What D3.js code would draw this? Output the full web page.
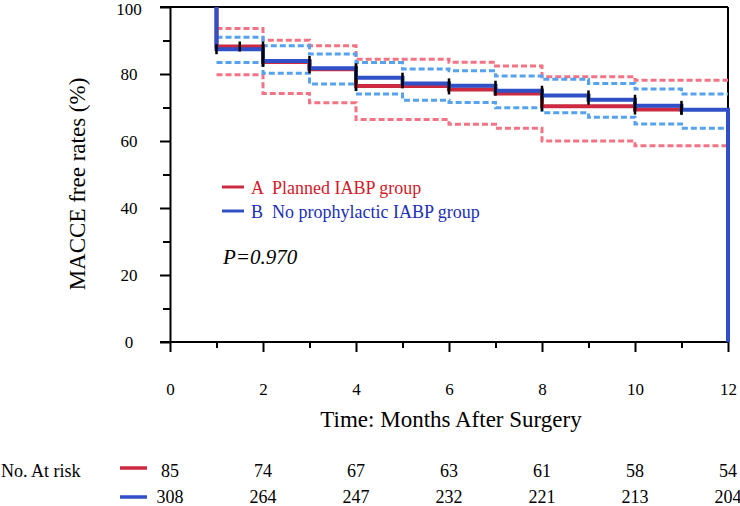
<!DOCTYPE html>
<html>
<head>
<meta charset="utf-8">
<script src="https://cdn.jsdelivr.net/npm/d3@7"></script>
<style>
    body { margin: 0; background: #fff; }
    svg text { font-family: "Liberation Serif", "Times New Roman", serif; white-space: pre; }
</style>
</head>
<body>
<div id="km-div"></div>
<script>
// Kaplan-Meier step values (step after)
const plannedTimes = [1, 1, 2, 3, 4, 6, 7, 8, 10, 11];
const plannedSurv = [100, 88.2, 83.6, 81.4, 76.4, 75.4, 74.2, 70.4, 69.4, 69.4];
const noProphTimes = [1, 1, 2, 3, 4, 5, 6, 7, 8, 9, 10, 11, 12];
const noProphSurv = [100, 87.4, 83.9, 81.7, 78.9, 77.2, 76.5, 75.0, 73.6, 72.3, 70.5, 69.3, 0];

// 95% CI bands (dashed), same step times
const ciTimes = [1, 2, 3, 4, 5, 6, 7, 8, 9, 10, 11, 12];
const plannedUpper = [93.6, 90.1, 88.4, 84.4, 84.4, 83.5, 82.4, 79.2, 79.2, 78.1, 78.1, 78.1];
const plannedLower = [79.8, 74.2, 71.4, 66.4, 66.4, 65.0, 63.8, 60.0, 60.0, 58.6, 58.6, 58.6];
const noProphUpper = [91.0, 88.4, 86.0, 83.4, 81.5, 81.0, 79.4, 78.4, 77.2, 75.5, 74.0, 74.0];
const noProphLower = [83.4, 80.2, 77.0, 74.0, 72.2, 71.5, 69.9, 68.4, 67.1, 65.1, 63.8, 63.8];

// censoring marks
const plannedCensor = [1.5, 2, 4, 6, 8, 10, 11];
const noProphCensor = [1, 2, 3, 4, 5, 6, 7, 8, 9, 10, 11];

// number at risk
const riskMonths = [0, 2, 4, 6, 8, 10, 12];
const plannedRisk = [85, 74, 67, 63, 61, 58, 54];
const noProphRisk = [308, 264, 247, 232, 221, 213, 204];

const legendLabels = ["A  Planned IABP group", "B  No prophylactic IABP group"];

const width = 740, height = 506;
const serif = '"Liberation Serif", "Times New Roman", serif';
const red = "#cc2a40", blue = "#2f50c6";
const redCI = "#f27484", blueCI = "#56a2ee";

const svg = d3.select("#km-div").append("svg")
    .attr("width", width)
    .attr("height", height)
    .attr("font-family", serif);

const x = d3.scaleLinear().domain([0, 12]).range([170, 728]);
const y = d3.scaleLinear().domain([0, 100]).range([342, 7]);

// frame
const frame = svg.append("g").attr("stroke", "#000").attr("stroke-width", 2);
frame.append("line").attr("x1", 160).attr("x2", x(12)).attr("y1", y(100)).attr("y2", y(100));
frame.append("line").attr("x1", x(12)).attr("x2", x(12)).attr("y1", y(100)).attr("y2", y(0));

// y axis: minor ticks then major ticks with labels
svg.append("g")
    .attr("transform", `translate(${x(0)},0)`)
    .call(d3.axisLeft(y).tickValues(d3.range(10, 100, 20)).tickSize(7).tickFormat(""))
    .call(g => g.select(".domain").remove())
    .call(g => g.selectAll("line").attr("stroke-width", 2));

svg.append("g")
    .attr("transform", `translate(${x(0)},0)`)
    .call(d3.axisLeft(y).tickValues(d3.range(0, 101, 20)).tickSize(10).tickSizeOuter(0))
    .attr("font-family", serif)
    .attr("font-size", 17)
    .call(g => g.select(".domain").attr("stroke-width", 2))
    .call(g => g.selectAll("line").attr("stroke-width", 2))
    .call(g => g.selectAll("text")
        .attr("x", -41)
        .attr("dy", d => d === 100 ? "0.42em" : "0.34em")
        .attr("text-anchor", "middle")
        .attr("fill", "#000"));

// x axis
svg.append("g")
    .attr("transform", `translate(0,${y(0)})`)
    .call(d3.axisBottom(x).tickValues(d3.range(1, 12, 2)).tickSize(6).tickFormat(""))
    .call(g => g.select(".domain").remove())
    .call(g => g.selectAll("line").attr("stroke-width", 2));

svg.append("g")
    .attr("transform", `translate(0,${y(0)})`)
    .call(d3.axisBottom(x).tickValues(d3.range(0, 13, 2)).tickSize(10).tickSizeOuter(0))
    .attr("font-family", serif)
    .attr("font-size", 17)
    .call(g => g.select(".domain").remove())
    .call(g => g.selectAll("line").attr("stroke-width", 2))
    .call(g => g.selectAll("text")
        .attr("y", 53)
        .attr("dy", 0)
        .attr("fill", "#000"));

svg.append("line")
    .attr("x1", 160).attr("x2", x(12))
    .attr("y1", y(0)).attr("y2", y(0))
    .attr("stroke", "#000").attr("stroke-width", 2);

// axis titles
svg.append("text")
    .attr("transform", "translate(85,184) rotate(-90)")
    .attr("text-anchor", "middle")
    .style("font-size", "23px")
    .text("MACCE free rates (%)");

svg.append("text")
    .attr("x", 451)
    .attr("y", 427)
    .attr("text-anchor", "middle")
    .style("font-size", "23px")
    .text("Time: Months After Surgery");

const stepLine = d3.line()
    .x(d => x(d[0]))
    .y(d => y(d[1]))
    .curve(d3.curveStepAfter);

function drawCI(times, vals, color) {
    svg.append("path")
        .datum(d3.zip(times, vals))
        .attr("d", stepLine)
        .attr("fill", "none")
        .attr("stroke", color)
        .attr("stroke-width", 3)
        .attr("stroke-dasharray", "6,3");
}

drawCI(ciTimes, plannedUpper, redCI);
drawCI(ciTimes, plannedLower, redCI);
drawCI(ciTimes, noProphUpper, blueCI);
drawCI(ciTimes, noProphLower, blueCI);

svg.append("path")
    .datum(d3.zip(plannedTimes, plannedSurv))
    .attr("d", stepLine)
    .attr("fill", "none")
    .attr("stroke", red)
    .attr("stroke-width", 4);

svg.append("path")
    .datum(d3.zip(noProphTimes, noProphSurv))
    .attr("d", stepLine)
    .attr("fill", "none")
    .attr("stroke", blue)
    .attr("stroke-width", 4);

// censor ticks span the step at that month
function level(times, vals, t, before) {
    let v = vals[vals.length - 1];
    for (let i = 1; i < times.length; i++) {
        if (before ? times[i] >= t : times[i] > t) { v = vals[i - 1]; break; }
    }
    return v;
}

function drawCensor(times, vals, marks) {
    svg.append("g")
        .selectAll("line")
        .data(marks)
        .enter()
        .append("line")
        .attr("x1", d => x(d))
        .attr("x2", d => x(d))
        .attr("y1", d => {
            const v = d === times[1] ? level(times, vals, d, false) : level(times, vals, d, true);
            return y(v) - 5;
        })
        .attr("y2", d => y(level(times, vals, d, false)) + 5)
        .attr("stroke", "#000")
        .attr("stroke-width", 2.5);
}

drawCensor(plannedTimes, plannedSurv, plannedCensor);
drawCensor(noProphTimes, noProphSurv, noProphCensor);

// legend
const legend = svg.append("g")
    .selectAll("g")
    .data(legendLabels)
    .enter()
    .append("g")
    .attr("transform", (d, i) => `translate(222,${187 + i * 24})`);

legend.append("line")
    .attr("x1", 0).attr("x2", 22)
    .attr("stroke", (d, i) => i === 0 ? red : blue)
    .attr("stroke-width", 3);

legend.append("text")
    .attr("x", 29)
    .attr("y", 7)
    .style("font-size", "18px")
    .attr("fill", (d, i) => i === 0 ? "#d01a2a" : "#2030b4")
    .text(d => d);

svg.append("text")
    .attr("x", 223)
    .attr("y", 264)
    .style("font-size", "21px")
    .style("font-style", "italic")
    .text("P=0.970");

// number at risk table
svg.append("text")
    .attr("x", 1)
    .attr("y", 477)
    .style("font-size", "18px")
    .text("No. At risk");

[[plannedRisk, red, 468, 477], [noProphRisk, blue, 497, 503]].forEach(([vals, color, ly, ty]) => {
    svg.append("line")
        .attr("x1", 120).attr("x2", 147)
        .attr("y1", ly).attr("y2", ly)
        .attr("stroke", color)
        .attr("stroke-width", 3.5);

    svg.append("g")
        .selectAll("text")
        .data(vals)
        .enter()
        .append("text")
        .attr("x", (d, i) => x(riskMonths[i]))
        .attr("y", ty)
        .attr("text-anchor", "middle")
        .style("font-size", "18px")
        .text(d => d);
});
</script>
</body>
</html>
